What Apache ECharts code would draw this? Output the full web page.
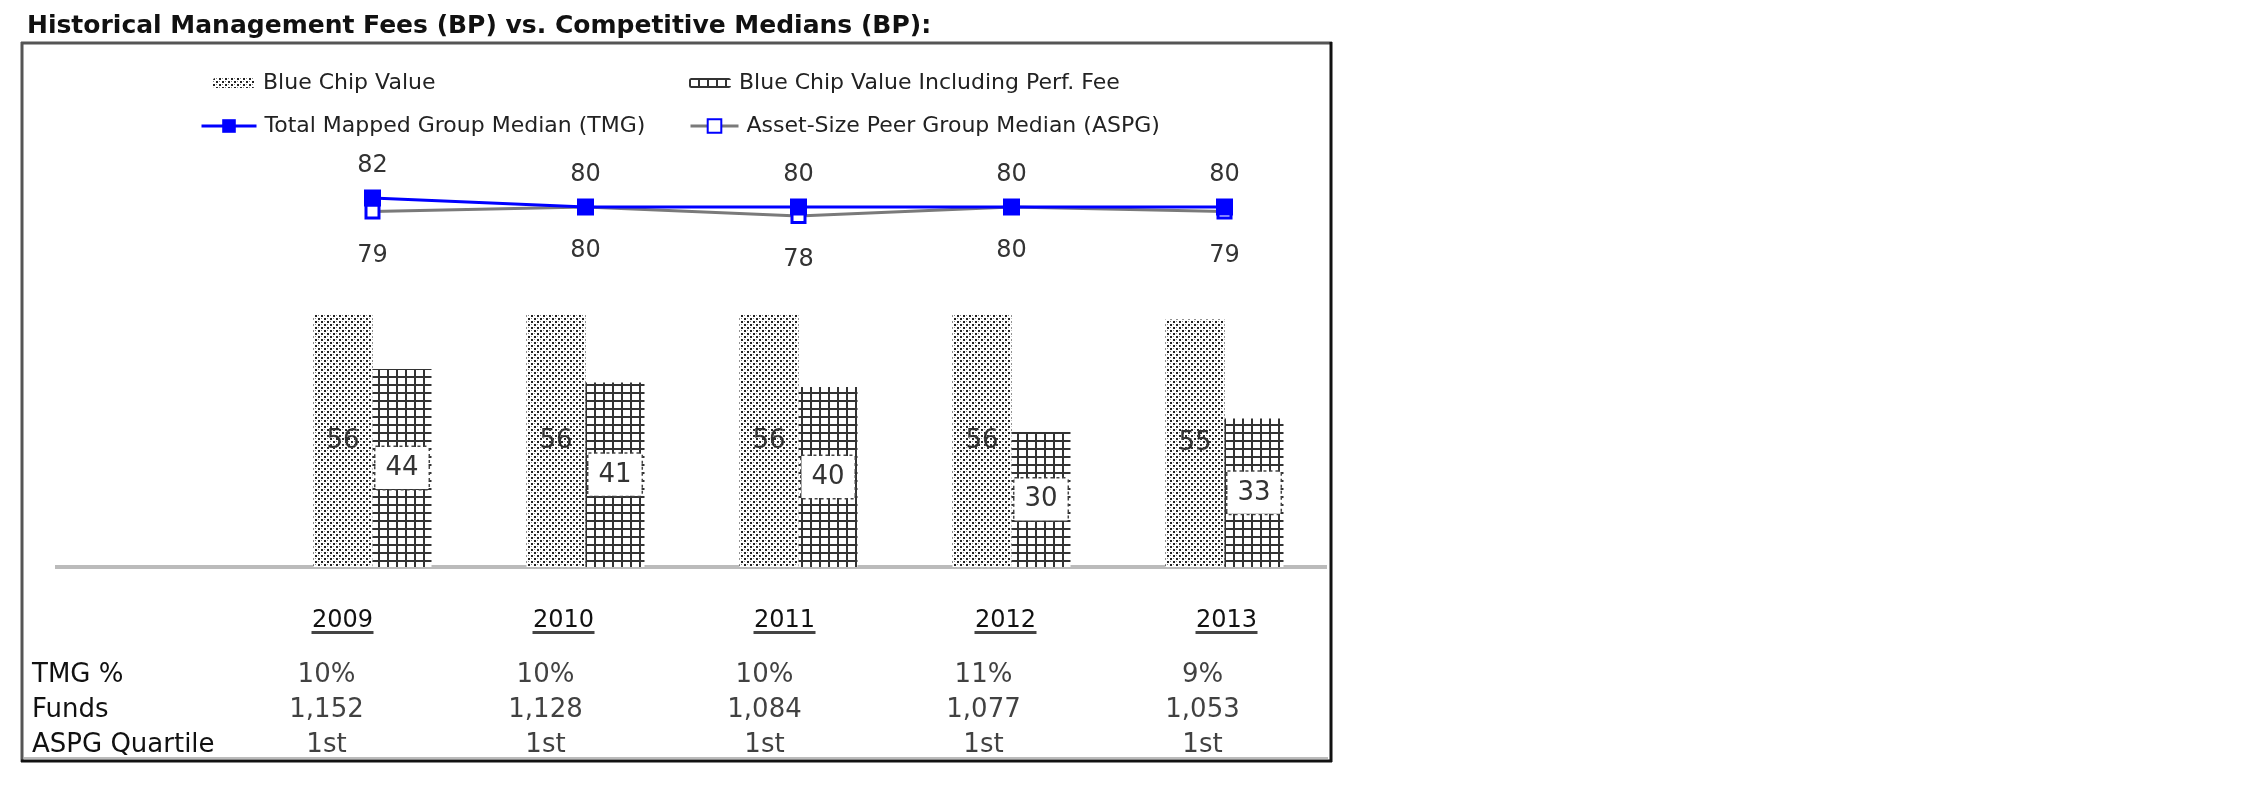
<!DOCTYPE html>
<html>
<head>
<meta charset="utf-8">
<script src="https://cdn.jsdelivr.net/npm/echarts@6/dist/echarts.min.js"></script>
<style>
html,body{margin:0;padding:0;background:#fff;}
#chart{width:2250px;height:796px;}
</style>
</head>
<body>
<div id="chart"></div>
<script>
// ---- data ----
const years = ['2009', '2010', '2011', '2012', '2013'];
const blueChip = [56, 56, 56, 56, 55];
const blueChipPerf = [44, 41, 40, 30, 33];
const tmgMedian = [82, 80, 80, 80, 80];
const aspgMedian = [79, 80, 78, 80, 79];
const tableRows = ['TMG %', 'Funds', 'ASPG Quartile'];
const tmgPct = ['10%', '10%', '10%', '11%', '9%'];
const funds = ['1,152', '1,128', '1,084', '1,077', '1,053'];
const quartile = ['1st', '1st', '1st', '1st', '1st'];
const seriesNames = ['Blue Chip Value', 'Blue Chip Value Including Perf. Fee',
  'Total Mapped Group Median (TMG)', 'Asset-Size Peer Group Median (ASPG)'];

// ---- patterns ----
function makeDots() {
  const c = document.createElement('canvas'); c.width = 6; c.height = 6;
  const g = c.getContext('2d');
  g.fillStyle = '#fff'; g.fillRect(0, 0, 6, 6);
  g.fillStyle = '#222'; g.fillRect(0, 0, 2, 2); g.fillRect(3, 3, 2, 2);
  g.fillStyle = '#888'; g.fillRect(0, 3, 1, 1); g.fillRect(3, 0, 1, 1);
  return c;
}
function makeGrid() {
  const c = document.createElement('canvas'); c.width = 9; c.height = 8;
  const g = c.getContext('2d');
  g.fillStyle = '#fff'; g.fillRect(0, 0, 9, 8);
  g.fillStyle = '#333'; g.fillRect(0, 0, 2, 8); g.fillRect(0, 0, 9, 2);
  return c;
}
const dotFill = { image: makeDots(), repeat: 'repeat' };
const gridFill = { image: makeGrid(), repeat: 'repeat' };

const FONT = 'DejaVu Sans';
const tableData = [];
[tmgPct, funds, quartile].forEach((row, r) => {
  row.forEach((txt, i) => tableData.push({ value: [i, r], text: txt }));
});

const chart = echarts.init(document.getElementById('chart'), null, { renderer: 'canvas' });

const legendBase = {
  orient: 'horizontal', padding: 0,
  lineStyle: { width: 3 },
  textStyle: { fontFamily: FONT, fontSize: 22, color: '#222', lineHeight: 24, padding: [0, 0, 0, 3] },
  selectedMode: false
};

const option = {
  backgroundColor: '#fff',
  animation: false,
  title: {
    text: 'Historical Management Fees (BP) vs. Competitive Medians (BP):',
    left: 27, top: 14, padding: 0,
    textStyle: { fontFamily: FONT, fontWeight: 'bold', fontSize: 25, color: '#111', lineHeight: 25 }
  },
  legend: [
    Object.assign({}, legendBase, { left: 213, top: 71, itemWidth: 42, itemHeight: 10, data: [seriesNames[0]] }),
    Object.assign({}, legendBase, { left: 689, top: 71, itemWidth: 42, itemHeight: 10, data: [seriesNames[1]] }),
    Object.assign({}, legendBase, { left: 200, top: 114, itemWidth: 55, itemHeight: 17, data: [seriesNames[2]] }),
    Object.assign({}, legendBase, { left: 689, top: 114, itemWidth: 48, itemHeight: 17, data: [seriesNames[3]] })
  ],
  grid: [
    { left: 266, width: 1065, top: 117, height: 450 },
    { left: 232, width: 1105, top: 600, height: 2 },
    { left: 217, width: 1095, top: 658, height: 105 }
  ],
  xAxis: [
    { type: 'category', gridIndex: 0, data: years, axisLine: { show: false }, axisTick: { show: false }, axisLabel: { show: false } },
    { type: 'category', gridIndex: 1, data: years, axisLine: { show: false }, axisTick: { show: false },
      axisLabel: {
        margin: 9,
        formatter: v => '{y|' + v + '}\n{u|}',
        rich: {
          y: { fontFamily: FONT, fontSize: 24, color: '#111', lineHeight: 20, align: 'center' },
          u: { width: 62, height: 3, lineHeight: 3, backgroundColor: '#444', align: 'center' }
        }
      } },
    { type: 'category', gridIndex: 2, data: years, axisLine: { show: false }, axisTick: { show: false }, axisLabel: { show: false } }
  ],
  yAxis: [
    { type: 'value', gridIndex: 0, min: 0, max: 100, show: false },
    { type: 'value', gridIndex: 1, show: false },
    { type: 'category', gridIndex: 2, data: tableRows, inverse: true,
      axisLine: { show: false }, axisTick: { show: false }, splitLine: { show: false },
      axisLabel: { align: 'left', margin: 185, fontFamily: FONT, fontSize: 26, color: '#111' } }
  ],
  series: [
    { name: seriesNames[0], type: 'bar', xAxisIndex: 0, yAxisIndex: 0, data: blueChip,
      barWidth: 59, barGap: '0%', itemStyle: { color: dotFill },
      label: { show: true, position: 'inside', fontFamily: FONT, fontSize: 26, color: '#333' } },
    { name: seriesNames[1], type: 'bar', xAxisIndex: 0, yAxisIndex: 0, data: blueChipPerf,
      barWidth: 59, barGap: '0%', itemStyle: { color: gridFill },
      label: { show: true, position: 'inside', fontFamily: FONT, fontSize: 26, color: '#333',
        backgroundColor: '#fff', borderColor: '#444', borderWidth: 1.5, borderType: 'dotted', padding: [8, 10] } },
    { name: seriesNames[3], type: 'line', xAxisIndex: 0, yAxisIndex: 0, data: aspgMedian, z: 3,
      symbol: 'rect', symbolSize: 13,
      lineStyle: { color: '#7a7a7a', width: 3 },
      itemStyle: { color: '#fff', borderColor: '#0000ff', borderWidth: 3 },
      label: { show: true, position: 'bottom', distance: 24, fontFamily: FONT, fontSize: 24, color: '#333' } },
    { name: seriesNames[2], type: 'line', xAxisIndex: 0, yAxisIndex: 0, data: tmgMedian, z: 4,
      symbol: 'rect', symbolSize: 17,
      lineStyle: { color: '#0000ff', width: 3 },
      itemStyle: { color: '#0000ff' },
      label: { show: true, position: 'top', distance: 12, fontFamily: FONT, fontSize: 24, color: '#333' } },
    { name: 'table', type: 'scatter', xAxisIndex: 2, yAxisIndex: 2, data: tableData,
      symbolSize: 1, itemStyle: { color: 'rgba(0,0,0,0)' }, silent: true,
      label: { show: true, position: 'inside', formatter: p => p.data.text,
        fontFamily: FONT, fontSize: 26, color: '#111' } }
  ],
  graphic: [
    { type: 'line', shape: { x1: 55, y1: 567, x2: 1327, y2: 567 }, style: { stroke: '#bbb', lineWidth: 4 }, z: 1 },
    { type: 'line', shape: { x1: 24, y1: 758, x2: 1328, y2: 758 }, style: { stroke: '#bbb', lineWidth: 2 } },
    { type: 'line', shape: { x1: 21, y1: 43, x2: 1332, y2: 43 }, style: { stroke: '#555', lineWidth: 3 } },
    { type: 'line', shape: { x1: 22, y1: 42, x2: 22, y2: 762 }, style: { stroke: '#555', lineWidth: 3 } },
    { type: 'line', shape: { x1: 1331, y1: 42, x2: 1331, y2: 762 }, style: { stroke: '#111', lineWidth: 3 } },
    { type: 'line', shape: { x1: 21, y1: 761, x2: 1332, y2: 761 }, style: { stroke: '#111', lineWidth: 3 } }
  ]
};
chart.setOption(option);
</script>
</body>
</html>
